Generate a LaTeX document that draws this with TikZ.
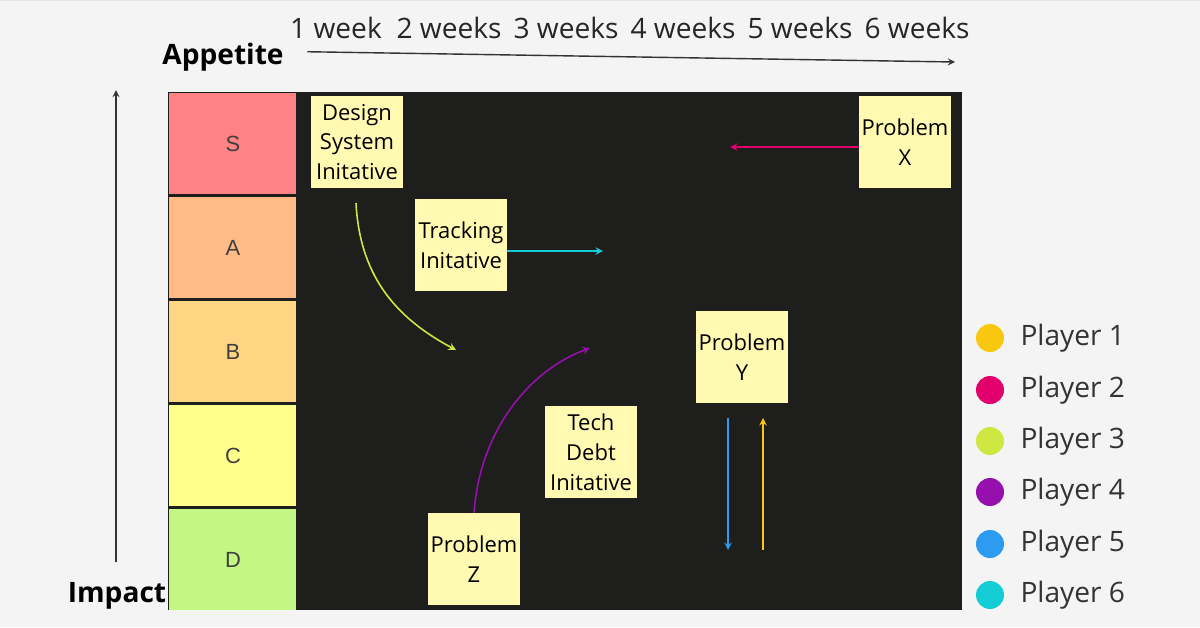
\documentclass[tikz,border=0pt]{standalone}
\usepackage{fontspec}
\setmainfont{Open Sans}
\newfontfamily\rowfont{Liberation Sans}
\usetikzlibrary{positioning}
\definecolor{canvas}{HTML}{F4F4F4}
\definecolor{gridc}{HTML}{E6E6E6}
\definecolor{board}{HTML}{1E1E1C}
\definecolor{sticky}{HTML}{FFF9B1}
\definecolor{rowS}{HTML}{FF8284}
\definecolor{rowA}{HTML}{FFBA88}
\definecolor{rowB}{HTML}{FFD583}
\definecolor{rowC}{HTML}{FFFF8C}
\definecolor{rowD}{HTML}{C2F784}
\definecolor{pone}{HTML}{FAC710}
\definecolor{ptwo}{HTML}{E2006D}
\definecolor{pthree}{HTML}{CEE741}
\definecolor{pfour}{HTML}{9510AC}
\definecolor{pfive}{HTML}{2D9BF0}
\definecolor{psix}{HTML}{12CDD4}
\tikzset{
  note/.style={fill=sticky, minimum width=1.84cm, minimum height=1.84cm, align=center, font=\fontsize{12.5}{17}\selectfont, inner sep=1pt},
  head/.style={font=\fontsize{16}{18}\selectfont, text=black!85},
  player/.style={font=\fontsize{16}{18}\selectfont, text=black!80, anchor=west},
  dot/.style={circle, minimum size=0.56cm, inner sep=0pt},
  move/.style={->, >=stealth, line width=0.9pt},
}
\begin{document}
\begin{tikzpicture}[x=0.02cm, y=-0.02cm]
\useasboundingbox (0,0) rectangle (1200,627);
\fill[canvas] (0,0) rectangle (1200,627);
\draw[gridc, line width=0.3pt, step=0.6cm] (0,-627) grid (1200,0);
% board
\fill[board] (168,92) rectangle (962,610);
\foreach \c/\t/\b/\l in {rowS/93/194/S, rowA/197/298/A, rowB/301/402/B, rowC/405/506/C, rowD/509/610/D} {
  \fill[\c] (169,\t) rectangle (296,\b);
  \node[font=\rowfont\fontsize{12.5}{14}\selectfont, text=black!75] at (233,{(\t+\b)/2}) {\l};
}
% axes
\foreach \x/\w in {336/1 week, 449/2 weeks, 566/3 weeks, 683/4 weeks, 800/5 weeks, 917/6 weeks}
  \node[head] at (\x,28) {\w};
\node (appetite) [font=\bfseries\fontsize{16}{18}\selectfont] at (223,57) {Appetite};
\coordinate (append) at (955,62);
\draw[->, >=stealth, black!80, line width=0.8pt] (appetite.east) ++(10pt,3pt) -- (append);
\node (impact) [font=\bfseries\fontsize{16}{18}\selectfont] at (117,596) {Impact};
\coordinate (impend) at (116,90);
\draw[->, >=stealth, black!80, line width=0.8pt] (116,562) -- (impend);
% notes
\node (design) [note] at (357,142) {Design\\System\\Initative};
\node (probx) [note] at (905,142) {Problem\\X};
\node (tracking) [note] at (461,245) {Tracking\\Initative};
\node (proby) [note] at (742,357) {Problem\\Y};
\node (techdebt) [note] at (591,452) {Tech\\Debt\\Initative};
\node (probz) [note] at (474,559) {Problem\\Z};
% moves
\coordinate (xend) at (730,147);
\coordinate (tend) at (603,251);
\coordinate (dend) at (456,350);
\coordinate (zend) at (590,348);
\coordinate (yend) at (728,550);
\coordinate (ystart) at (763,550);
\draw[move, ptwo] (probx.west |- xend) -- (xend);
\draw[move, psix] (tracking.east |- tend) -- (tend);
\draw[move, pthree] (356,203) .. controls (360,280) and (400,320) .. (dend);
\draw[move, pfour] (probz.north) .. controls (480,430) and (530,370) .. (zend);
\draw[move, pfive] (728,418) -- (yend);
\draw[move, pone] (ystart) -- (763,418);
% legend
\foreach \c/\y/\n in {pone/338/1, ptwo/390/2, pthree/441/3, pfour/492/4, pfive/544/5, psix/595/6} {
  \node (dot\n) [dot, fill=\c] at (990,\y) {};
  \node (player\n) [player, right=0.2cm of dot\n] {Player \n};
}
\end{tikzpicture}
\end{document}
